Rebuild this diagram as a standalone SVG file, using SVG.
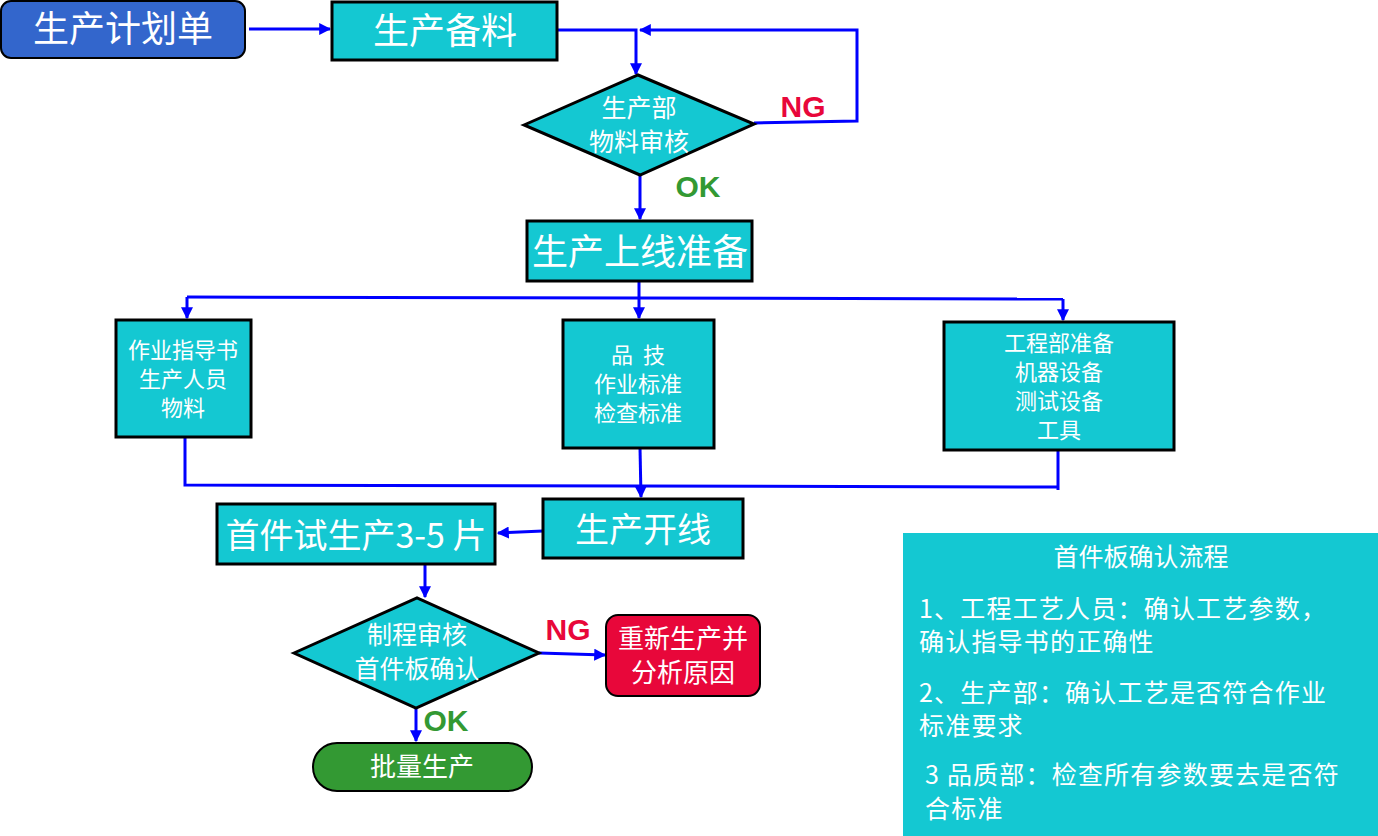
<svg xmlns="http://www.w3.org/2000/svg" width="1378" height="836" viewBox="0 0 1378 836">
<defs>
<marker id="a" viewBox="0 0 10 10" refX="9" refY="5" markerWidth="4" markerHeight="4" orient="auto"><path d="M0,0L10,5L0,10z" fill="#0000ff"/></marker>
<style>
.t{font-family:"Noto Sans CJK SC","Liberation Sans",sans-serif;fill:#fff;text-anchor:middle;white-space:pre}
.b{fill:#14c8d2;stroke:#000;stroke-width:3}
.c{fill:none;stroke:#0000ff;stroke-width:3}
.ca{fill:none;stroke:#0000ff;stroke-width:3;marker-end:url(#a)}
.lb{font-family:"Liberation Sans",sans-serif;font-weight:bold;font-size:30px;text-anchor:middle}
</style>
</defs>
<rect width="1378" height="836" fill="#fff"/>
<g id="connectors">
<path class="ca" d="M249,29H330"/>
<path class="ca" d="M557,30H636V74"/>
<path class="ca" d="M754,123L857,121V30H640"/>
<path class="ca" d="M640,175V219"/>
<path class="c" d="M639,281V297"/>
<path class="c" d="M187,297L1063,299"/>
<path class="ca" d="M187,297V318"/>
<path class="ca" d="M639,297V318"/>
<path class="ca" d="M1063,299V320"/>
<path class="c" d="M185,437V485L1058,487"/>
<path class="c" d="M1058,450V490"/>
<path class="ca" d="M640,448L641,497"/>
<path class="ca" d="M543,531L498,533"/>
<path class="ca" d="M425,564V597"/>
<path class="ca" d="M539,653L605,655"/>
<path class="ca" d="M416,708V741"/>
</g>
<g id="labels">
<text class="lb" x="803" y="117" fill="#e8073a">NG</text>
<text class="lb" x="698" y="197" fill="#339933">OK</text>
<text class="lb" x="568" y="640" fill="#e8073a">NG</text>
<text class="lb" x="446" y="731" fill="#339933">OK</text>
</g>
<g id="n1"><rect x="1" y="1" width="244" height="57" rx="10" fill="#3366cc" stroke="#000" stroke-width="2"/><text class="t" x="123" y="42" font-size="36">生产计划单</text></g>
<g id="n2"><rect class="b" x="332" y="2" width="225" height="58"/><text class="t" x="445" y="44" font-size="36">生产备料</text></g>
<g id="n3"><path class="b" stroke-width="2" d="M524,125L638,75L754,124L640,175Z"/><text class="t" x="639" y="117" font-size="25">生产部</text><text class="t" x="639" y="151" font-size="25">物料审核</text></g>
<g id="n4"><rect class="b" x="527" y="221" width="225" height="60"/><text class="t" x="640" y="265" font-size="36">生产上线准备</text></g>
<g id="n5"><rect class="b" stroke-width="2" x="116" y="320" width="135" height="117"/><text class="t" x="183" y="358" font-size="22">作业指导书</text><text class="t" x="183" y="387" font-size="22">生产人员</text><text class="t" x="183" y="416" font-size="22">物料</text></g>
<g id="n6"><rect class="b" stroke-width="2" x="563" y="320" width="151" height="128"/><text class="t" x="638" y="363" font-size="22" xml:space="preserve">品  技</text><text class="t" x="638" y="392" font-size="22">作业标准</text><text class="t" x="638" y="421" font-size="22">检查标准</text></g>
<g id="n7"><rect class="b" stroke-width="2" x="944" y="322" width="230" height="128"/><text class="t" x="1059" y="351" font-size="22">工程部准备</text><text class="t" x="1059" y="380" font-size="22">机器设备</text><text class="t" x="1059" y="409" font-size="22">测试设备</text><text class="t" x="1059" y="438" font-size="22">工具</text></g>
<g id="n8"><rect class="b" x="543" y="499" width="200" height="59"/><text class="t" x="643" y="542" font-size="34">生产开线</text></g>
<g id="n9"><rect class="b" x="217" y="504" width="278" height="60"/><text class="t" x="356" y="548" font-size="34">首件试生产3-5 片</text></g>
<g id="n10"><path class="b" stroke-width="2" d="M294,653L417,598L539,653L416,708Z"/><text class="t" x="417" y="644" font-size="25">制程审核</text><text class="t" x="417" y="678" font-size="25">首件板确认</text></g>
<g id="n11"><rect x="606" y="615" width="154" height="81" rx="12" fill="#e8073a" stroke="#000" stroke-width="2"/><text class="t" x="683" y="648" font-size="26">重新生产并</text><text class="t" x="683" y="682" font-size="26">分析原因</text></g>
<g id="n12"><rect x="313" y="743" width="219" height="48" rx="24" fill="#339933" stroke="#000" stroke-width="2"/><text class="t" x="422" y="776" font-size="26">批量生产</text></g>
<g id="info"><rect x="903" y="533" width="475" height="303" fill="#14c8d2"/>
<g font-family="'Noto Sans CJK SC','Liberation Sans',sans-serif" font-size="25" letter-spacing="1.2" fill="#fff" xml:space="preserve">
<text x="1141" y="566" text-anchor="middle" letter-spacing="0">首件板确认流程</text>
<text x="919" y="618">1、工程工艺人员：确认工艺参数，</text>
<text x="919" y="651">确认指导书的正确性</text>
<text x="919" y="702">2、生产部：确认工艺是否符合作业</text>
<text x="919" y="735">标准要求</text>
<text x="925" y="784">3   品质部：检查所有参数要去是否符</text>
<text x="925" y="818">合标准</text>
</g></g>
</svg>
